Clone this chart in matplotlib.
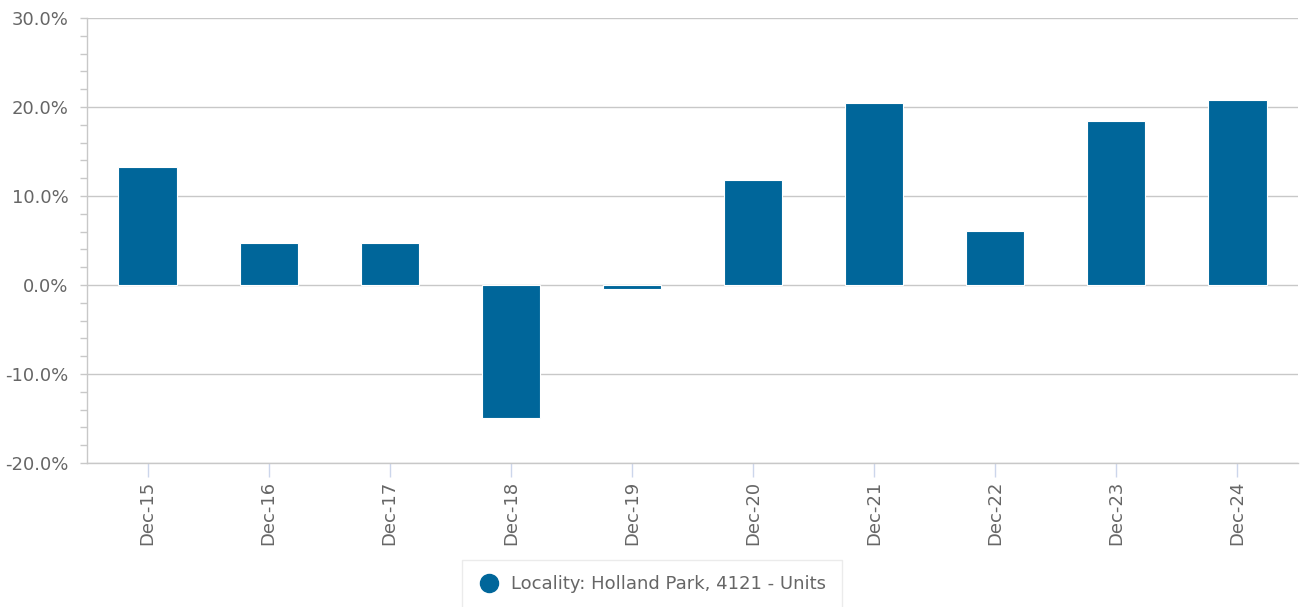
import matplotlib as mpl
import matplotlib.pyplot as plt
from matplotlib.ticker import MultipleLocator, FuncFormatter
from matplotlib.lines import Line2D
mpl.use('Agg')
plt.rcParams['font.family'] = ['DejaVu Sans']

# data
periodos = ["Dec-15", "Dec-16", "Dec-17", "Dec-18", "Dec-19",
            "Dec-20", "Dec-21", "Dec-22", "Dec-23", "Dec-24"]
variacao = [13.3, 4.7, 4.7, -14.9, -0.45, 11.8, 20.4, 6.1, 18.4, 20.8]
serie = "Locality: Holland Park, 4121 - Units"

cor_barra = "#00669a"
cor_texto = "#666666"
cor_grade = "#c8c8c8"

fig = plt.figure(figsize=(13.04, 6.07), dpi=100)
ax = fig.add_axes([87/1304, 1-463/607, (1298-87)/1304, (463-18)/607])

x = list(range(len(periodos)))
ax.bar(x, variacao, width=0.48, color=cor_barra, edgecolor="white", linewidth=0.8, zorder=3)

ax.set_xlim(-0.5, len(periodos)-0.5)
ax.set_ylim(-20, 30)
ax.yaxis.set_major_locator(MultipleLocator(10))
ax.yaxis.set_minor_locator(MultipleLocator(2))
ax.yaxis.set_major_formatter(FuncFormatter(lambda v, p: f"{v:.1f}%"))
ax.grid(axis="y", which="major", color=cor_grade, linewidth=1, zorder=0)

ax.set_xticks(x)
ax.set_xticklabels(periodos, rotation=90)

for lado in ["top", "right"]:
    ax.spines[lado].set_visible(False)
ax.spines["left"].set_color(cor_grade)
ax.spines["bottom"].set_color(cor_grade)
ax.spines["left"].set_linewidth(1)
ax.spines["bottom"].set_linewidth(1)

ax.tick_params(axis="y", which="both", length=5, width=1, color=cor_grade,
               labelsize=13, labelcolor=cor_texto, pad=8.5)
ax.tick_params(axis="x", length=10, width=1, color="#ccd6eb",
               labelsize=13, labelcolor=cor_texto, pad=3)

marcador = Line2D([], [], marker="o", linestyle="", markersize=13,
                  color=cor_barra, label=serie)
leg = fig.legend(handles=[marcador], loc="upper center",
                 bbox_to_anchor=(0.5, 1-560/607), fontsize=13,
                 frameon=True, fancybox=False, handletextpad=0.65,
                 borderpad=0.85, borderaxespad=0, handlelength=1.2,
                 labelcolor=cor_texto)
leg.get_frame().set_edgecolor("#e6e6e6")
leg.get_frame().set_linewidth(1)

plt.savefig("out.png", dpi=100)
